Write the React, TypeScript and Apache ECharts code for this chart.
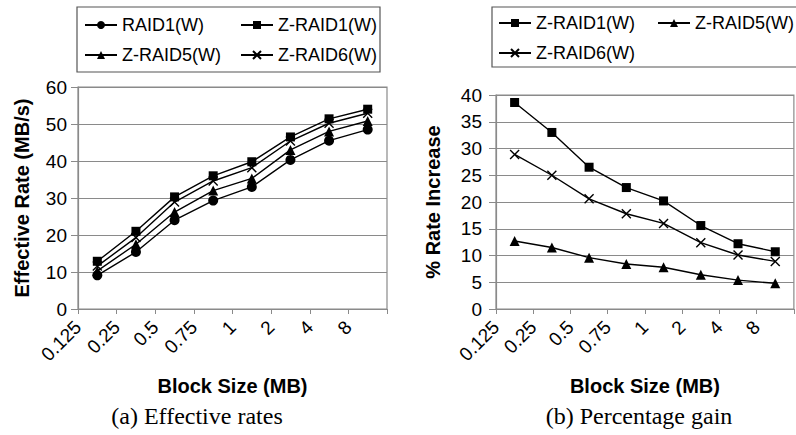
import React, { useEffect, useRef } from "react";
import * as echarts from "echarts";

const blockSizes = ["0.125", "0.25", "0.5", "0.75", "1", "2", "4", "8"];
const rateTicks = [0, 10, 20, 30, 40, 50, 60];
const gainTicks = [0, 5, 10, 15, 20, 25, 30, 35, 40];

const raid1W = [9.1, 15.4, 24.0, 29.3, 33.0, 40.3, 45.5, 48.5];
const zRaid1W = [12.9, 21.0, 30.3, 36.0, 39.8, 46.5, 51.4, 54.0];
const zRaid5W = [10.3, 17.5, 26.2, 32.0, 35.3, 43.0, 48.0, 50.8];
const zRaid6W = [11.6, 19.3, 28.9, 34.6, 38.2, 45.4, 50.2, 52.9];

const gainZRaid1 = [38.6, 33.0, 26.5, 22.7, 20.2, 15.6, 12.2, 10.7];
const gainZRaid5 = [12.7, 11.5, 9.6, 8.4, 7.8, 6.4, 5.4, 4.8];
const gainZRaid6 = [28.9, 25.0, 20.6, 17.8, 16.0, 12.4, 10.1, 8.9];

const SANS = "Liberation Sans, Arial, sans-serif";
const SERIF = "Liberation Serif, Times New Roman, serif";
const GRID = "#8a8a8a";
const CROSS = "path://M0,0L10,10M10,0L0,10";

const toPoints = (vals: number[]) => vals.map((v, i) => [i + 0.5, v]);

function makeSeries(name: string, data: number[], idx: number, symbol: string, size: number) {
  const isCross = symbol === CROSS;
  return {
    name,
    type: "line",
    xAxisIndex: idx,
    yAxisIndex: idx,
    data: toPoints(data),
    symbol,
    symbolSize: size,
    showAllSymbol: true,
    lineStyle: { color: "#000", width: 1.4 },
    itemStyle: {
      color: isCross ? "transparent" : "#000",
      borderColor: "#000",
      borderWidth: isCross ? 1.4 : 0,
    },
    emphasis: { disabled: true },
  };
}

function xAxis(idx: number, name: string) {
  return {
    type: "value",
    gridIndex: idx,
    min: 0,
    max: 8,
    interval: 1,
    name,
    nameLocation: "middle",
    nameGap: 67,
    nameTextStyle: { fontFamily: SANS, fontWeight: "bold", fontSize: 20, color: "#000" },
    axisLine: { show: true, lineStyle: { color: GRID, width: 1.2 } },
    axisTick: { show: true, length: 5, lineStyle: { color: GRID } },
    splitLine: { show: false },
    axisLabel: {
      rotate: 45,
      margin: 15,
      fontFamily: SANS,
      fontSize: 19,
      color: "#000",
      formatter: (v: number) => blockSizes[v] ?? "",
    },
  };
}

function yAxis(idx: number, name: string, ticks: number[], gap: number, margin: number) {
  return {
    type: "value",
    gridIndex: idx,
    min: ticks[0],
    max: ticks[ticks.length - 1],
    interval: ticks[1] - ticks[0],
    name,
    nameLocation: "middle",
    nameGap: gap,
    nameTextStyle: { fontFamily: SANS, fontWeight: "bold", fontSize: 20, color: "#000" },
    axisLine: { show: true, lineStyle: { color: GRID, width: 1.2 } },
    axisTick: { show: true, length: 7, lineStyle: { color: GRID } },
    splitLine: { show: true, lineStyle: { color: GRID, width: 1.2 } },
    axisLabel: { margin, fontFamily: SANS, fontSize: 19, color: "#000" },
  };
}

function legend(names: string[], left: number, top: number) {
  return {
    data: names,
    orient: "vertical",
    left,
    top,
    padding: 0,
    itemGap: 12,
    itemWidth: 32,
    itemHeight: 10,
    selectedMode: false,
    textStyle: { fontFamily: SANS, fontSize: 18, color: "#000", padding: [0, 0, 0, 0] },
  };
}

export default function App() {
  const ref = useRef<HTMLDivElement>(null);
  useEffect(() => {
    if (!ref.current) return;
    const chart = echarts.init(ref.current, null, { renderer: "svg" });
    chart.setOption({
      animation: false,
      backgroundColor: "#fff",
      title: [
        {
          text: "(a) Effective rates",
          left: 197,
          top: 404,
          textAlign: "center",
          padding: 0,
          textStyle: { fontFamily: SERIF, fontWeight: "normal", fontSize: 24, color: "#000" },
        },
        {
          text: "(b) Percentage gain",
          left: 639,
          top: 404,
          textAlign: "center",
          padding: 0,
          textStyle: { fontFamily: SERIF, fontWeight: "normal", fontSize: 24, color: "#000" },
        },
      ],
      graphic: [
        {
          type: "rect",
          shape: { x: 77, y: 7, width: 303, height: 65 },
          style: { fill: "#fff", stroke: "#555", lineWidth: 1.2 },
          z: -1,
        },
        {
          type: "rect",
          shape: { x: 492, y: 7, width: 330, height: 60 },
          style: { fill: "#fff", stroke: "#555", lineWidth: 1.2 },
          z: -1,
        },
      ],
      legend: [
        legend(["RAID1(W)", "Z-RAID5(W)"], 84, 16),
        legend(["Z-RAID1(W)", "Z-RAID6(W)"], 240, 16),
        legend(["Z-RAID1(W)", "Z-RAID6(W)"], 498, 14),
        legend(["Z-RAID5(W)"], 657, 14),
      ],
      grid: [
        { left: 78, top: 87, width: 309, height: 222, show: true, borderColor: GRID, borderWidth: 1.2, backgroundColor: "transparent" },
        { left: 496, top: 95, width: 309, height: 214, show: true, borderColor: GRID, borderWidth: 1.2, backgroundColor: "transparent" },
      ],
      xAxis: [xAxis(0, "Block Size (MB)"), xAxis(1, "Block Size (MB)")],
      yAxis: [
        yAxis(0, "Effective Rate (MB/s)", rateTicks, 46, 11),
        yAxis(1, "% Rate Increase", gainTicks, 53, 14),
      ],
      series: [
        makeSeries("RAID1(W)", raid1W, 0, "circle", 10),
        makeSeries("Z-RAID1(W)", zRaid1W, 0, "rect", 9),
        makeSeries("Z-RAID5(W)", zRaid5W, 0, "triangle", 10),
        makeSeries("Z-RAID6(W)", zRaid6W, 0, CROSS, 9),
        makeSeries("Z-RAID1(W)", gainZRaid1, 1, "rect", 9),
        makeSeries("Z-RAID5(W)", gainZRaid5, 1, "triangle", 10),
        makeSeries("Z-RAID6(W)", gainZRaid6, 1, CROSS, 9),
      ],
    });
    return () => chart.dispose();
  }, []);
  return (
    <div
      ref={ref}
      style={{ position: "fixed", left: 0, top: 0, width: 796, height: 435, background: "#fff" }}
    />
  );
}
